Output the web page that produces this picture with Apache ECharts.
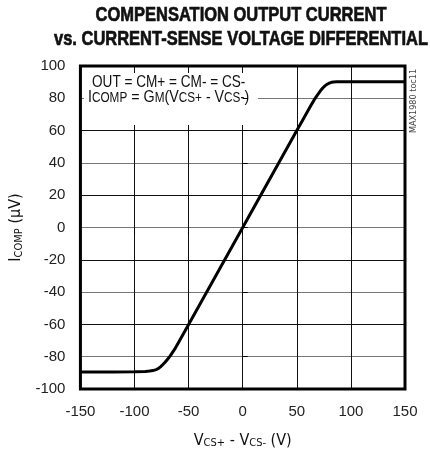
<!DOCTYPE html>
<html><head><meta charset="utf-8">
<script src="https://cdn.jsdelivr.net/npm/echarts@6/dist/echarts.min.js"></script>
<style>html,body{margin:0;padding:0;background:#fff}#c{width:430px;height:454px}</style>
</head><body><div id="c"></div>
<script>
var titleLines = ['COMPENSATION OUTPUT CURRENT', 'vs. CURRENT-SENSE VOLTAGE DIFFERENTIAL'];
var xTicks = [-150, -100, -50, 0, 50, 100, 150];
var yTicks = [-100, -80, -60, -40, -20, 0, 20, 40, 60, 80, 100];
var vDiff = [-150, -120, -100, -90, -86, -83, -80, -78, -76, -74, -72, -70, -67, -63, -60, -50, 0, 50, 55, 60, 63, 66, 69, 72, 74, 76, 78, 80, 82, 84, 87, 90, 100, 120, 150];
var iComp = [-89.5, -89.4, -89.3, -89.1, -88.9, -88.6, -88.0, -87.3, -86.3, -85.0, -83.6, -82.0, -79.5, -75.5, -72.0, -60, 0, 60, 66, 72, 75.5, 79, 82, 84.8, 86.4, 87.7, 88.7, 89.4, 89.9, 90.1, 90.2, 90.3, 90.3, 90.3, 90.3];
var noteLine1 = 'OUT = CM+ = CM- = CS-';
var noteLine2 = '{a|I}{s|COMP}{a| = G}{s|M}{a|(V}{s|CS+}{a| - V}{s|CS-}{a|)}';
var xName = '{a|V}{s|CS+}{a| - V}{s|CS-}{a| (V)}';
var yName = '{a|I}{s|COMP}{a| (µV)}';
var tocText = 'MAX1980 toc11';

var COND = "'DejaVu Sans Condensed', sans-serif";
var SANS = "'Liberation Sans', Arial, sans-serif";
var data = vDiff.map(function (v, i) { return [v, iComp[i]]; });
var nameRich = {
  a: { fontFamily: COND, fontSize: 16, lineHeight: 17, color: '#111', verticalAlign: 'middle' },
  s: { fontFamily: COND, fontSize: 11, lineHeight: 10, color: '#111', verticalAlign: 'bottom' }
};
var noteRich = {
  a: { fontFamily: SANS, fontSize: 17, lineHeight: 15, color: '#111', verticalAlign: 'middle' },
  s: { fontFamily: SANS, fontSize: 14, lineHeight: 10, color: '#111', verticalAlign: 'bottom' }
};

var chart = echarts.init(document.getElementById('c'), null, { renderer: 'canvas' });
var xMin = xTicks[0], xMax = xTicks[xTicks.length - 1], xInt = xTicks[1] - xTicks[0];
var yMin = yTicks[0], yMax = yTicks[yTicks.length - 1], yInt = yTicks[1] - yTicks[0];
var titleGraphics = titleLines.map(function (t, i) {
  return {
    type: 'text', z: 2, x: 241, y: 15 + i * 24, scaleX: 0.785,
    style: { text: t, font: 'bold 21px ' + SANS, fill: '#111', stroke: '#111', lineWidth: 0.7,
             align: 'center', verticalAlign: 'middle' }
  };
});
chart.setOption({
  animation: false,
  backgroundColor: '#fff',
  grid: { left: 79, right: 25, top: 66, bottom: 64, show: true, borderColor: '#000', borderWidth: 3, z: 4, backgroundColor: 'transparent' },
  xAxis: [{
    type: 'value', min: xMin, max: xMax, interval: xInt, position: 'bottom', z: 0,
    axisLine: { show: false }, axisTick: { show: false },
    axisLabel: { fontFamily: SANS, fontSize: 15, color: '#222', margin: 15 },
    splitLine: { show: true, lineStyle: { color: '#111', width: 1 } },
    name: xName, nameLocation: 'middle', nameGap: 43,
    nameTextStyle: { rich: nameRich }
  }, {
    type: 'value', min: xMin, max: xMax, interval: xInt, position: 'top', z: 3,
    axisLine: { show: false }, axisLabel: { show: false }, splitLine: { show: false },
    axisTick: { show: true, inside: true, length: 7, lineStyle: { color: '#000', width: 1 } }
  }],
  yAxis: [{
    type: 'value', min: yMin, max: yMax, interval: yInt, position: 'left', z: 0,
    axisLine: { show: false }, axisTick: { show: false },
    axisLabel: { fontFamily: SANS, fontSize: 15, color: '#222', margin: 15 },
    splitLine: { show: true, lineStyle: { color: ['#111', '#777'], width: 1.2 } },
    name: yName, nameLocation: 'middle', nameGap: 51,
    nameTextStyle: { rich: nameRich }
  }, {
    type: 'value', min: yMin, max: yMax, interval: yInt, position: 'left', z: 3,
    axisLine: { show: false }, axisLabel: { show: false }, splitLine: { show: false },
    axisTick: { show: true, inside: true, length: 5, lineStyle: { color: '#000', width: 1 } }
  }],
  graphic: titleGraphics.concat([{
    type: 'rect', z: 1, shape: { x: 84, y: 73, width: 174, height: 52 },
    style: { fill: '#fff' }
  }, {
    type: 'text', z: 2, x: 92, y: 82, scaleX: 0.8,
    style: { text: noteLine1, font: '17px ' + SANS, fill: '#111', verticalAlign: 'middle' }
  }, {
    type: 'text', z: 2, x: 88, y: 90, scaleX: 0.84,
    style: { text: noteLine2, font: '17px ' + SANS, fill: '#111', rich: noteRich }
  }, {
    type: 'text', z: 2, x: 409, y: 133, rotation: Math.PI / 2,
    style: { text: tocText, font: '9px ' + COND, fill: '#444' }
  }]),
  series: [{
    type: 'line', xAxisIndex: 0, yAxisIndex: 0, data: data, showSymbol: false,
    smooth: false, z: 5,
    lineStyle: { color: '#000', width: 3, join: 'round' }
  }]
});
</script></body></html>
